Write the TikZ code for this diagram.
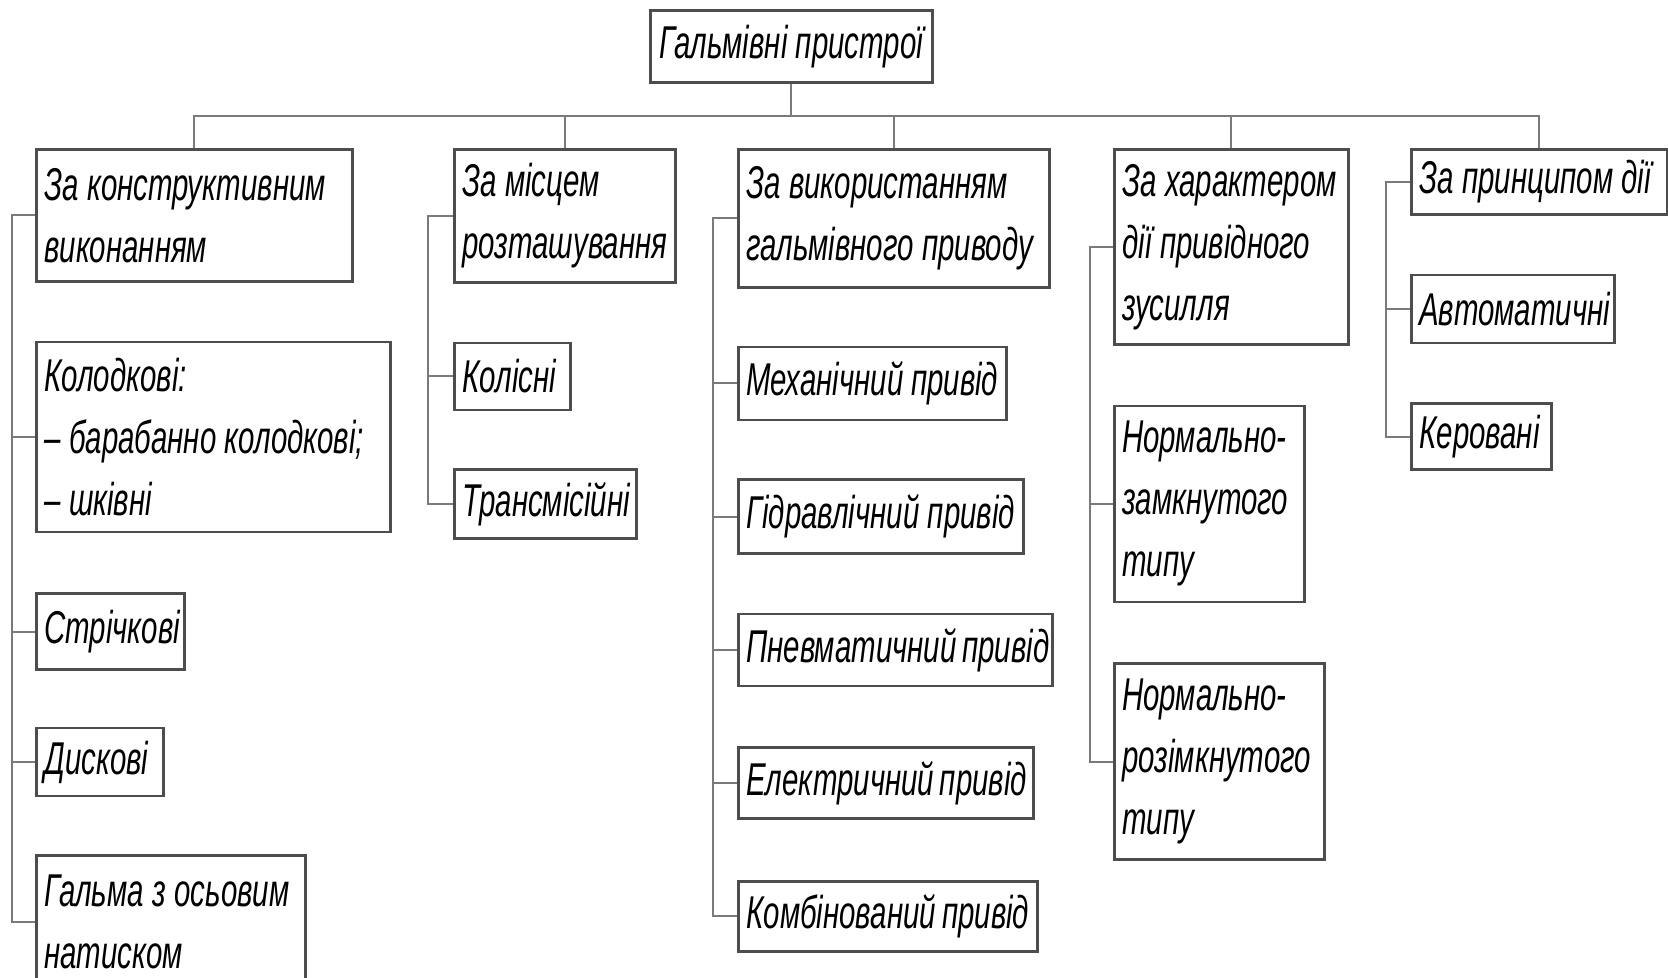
\documentclass[tikz,border=0pt]{standalone}
\usepackage{fontspec}
\newfontfamily\gostfont{Liberation Sans}[FakeStretch=0.64]
\usetikzlibrary{positioning}
\definecolor{boxgray}{HTML}{4D4D4D}
\definecolor{linkgray}{HTML}{7A7A7A}
\newcommand\gostsize{\gostfont\itshape\fontsize{23}{31}\selectfont\fontdimen2\font=4.2pt\relax}
\tikzset{
  blk/.style={draw=boxgray, line width=1.3pt, anchor=north west, align=flush left,
    inner xsep=4pt, inner ysep=2pt, font=\gostsize},
  link/.style={draw=linkgray, line width=1pt}
}

\begin{document}
\begin{tikzpicture}[x=0.5pt, y=-0.5pt]
            \useasboundingbox (0,0) rectangle (1668,978);
            % верхній блок
            \node[blk, align=flush center, text width=133pt, minimum height=36pt] (top) at (649,9) {Гальмівні~пристрої};

            % класифікаційні ознаки
            \node[blk, text width=150pt, minimum height=66pt] (c1) at (35,148) {За~конструктивним\\виконанням};
            \node[blk, text width=102.5pt, minimum height=66.5pt] (c2) at (453,148) {За~місцем\\розташування};
            \node[blk, text width=147.5pt, minimum height=69pt] (c3) at (737,148) {За~використанням\\гальмівного~приводу};
            \node[blk, text width=109pt, minimum height=97.5pt] (c4) at (1113,148) {За~характером\\дії~привідного\\зусилля};
            \node[blk, text width=120pt, minimum height=32.5pt] (c5) at (1410,148) {За~принципом~дії};

            % за конструктивним виконанням
            \node[blk, below=29pt of c1.south west, anchor=north west, text width=169pt, minimum height=95pt] (a1) {Колодкові:\\–~барабанно~колодкові;\\–~шківні};
            \node[blk, below=29.5pt of a1.south west, anchor=north west, text width=66pt, minimum height=38pt] (a2) {Стрічкові};
            \node[blk, below=28pt of a2.south west, anchor=north west, text width=55.5pt, minimum height=34pt] (a3) {Дискові};
            \node[blk, below=28.5pt of a3.south west, anchor=north west, text width=126.5pt, minimum height=66pt] (a4) {Гальма~з~осьовим\\натиском};

            % за місцем розташування
            \node[blk, below=29pt of c2.south west, anchor=north west, text width=50pt, minimum height=33.5pt] (b1) {Колісні};
            \node[blk, below=28.5pt of b1.south west, anchor=north west, text width=83pt, minimum height=34.5pt] (b2) {Трансмісійні};

            % за використанням приводу
            \node[blk, below=28.5pt of c3.south west, anchor=north west, text width=126pt, minimum height=36.5pt] (d1) {Механічний~привід};
            \node[blk, below=28.5pt of d1.south west, anchor=north west, text width=134.5pt, minimum height=37pt] (d2) {Гідравлічний~привід};
            \node[blk, below=29pt of d2.south west, anchor=north west, text width=149pt, minimum height=36pt] (d3) {Пневматичний~привід};
            \node[blk, below=29.5pt of d3.south west, anchor=north west, text width=139.5pt, minimum height=35.5pt] (d4) {Електричний~привід};
            \node[blk, below=30pt of d4.south west, anchor=north west, text width=141.5pt, minimum height=35pt] (d5) {Комбінований~привід};

            % за характером дії зусилля
            \node[blk, below=29.5pt of c4.south west, anchor=north west, text width=87pt, minimum height=98pt] (e1) {Нормально-\\замкнутого\\типу};
            \node[blk, below=29.5pt of e1.south west, anchor=north west, text width=97pt, minimum height=98pt] (e2) {Нормально-\\розімкнутого\\типу};

            % за принципом дії
            \node[blk, below=29pt of c5.south west, anchor=north west, text width=93.5pt, minimum height=34pt] (f1) {Автоматичні};
            \node[blk, below=29pt of f1.south west, anchor=north west, text width=62pt, minimum height=33pt] (f2) {Керовані};

            % з'єднання верхнього рівня
            \draw[link] (top.south) -- ++(0,32) coordinate (bus);
            \draw[link] (c1.north) |- (bus) -| (c5.north);
            \foreach \n in {c2,c3,c4}
                \draw[link] (\n.north) -- (\n.north |- bus);

            % бічні шини
            \draw[link] (c1.west) -- ++(-23,0) |- (a4.west);
            \foreach \n in {a1,a2,a3}
                \draw[link] (\n.west) -- ++(-23,0);
            \draw[link] (c2.west) -- ++(-25,0) |- (b2.west);
            \draw[link] (b1.west) -- ++(-25,0);
            \draw[link] (c3.west) -- ++(-24,0) |- (d5.west);
            \foreach \n in {d1,d2,d3,d4}
                \draw[link] (\n.west) -- ++(-24,0);
            \draw[link] (c4.west) -- ++(-23,0) |- (e2.west);
            \draw[link] (e1.west) -- ++(-23,0);
            \draw[link] (c5.west) -- ++(-24,0) |- (f2.west);
            \draw[link] (f1.west) -- ++(-24,0);
\end{tikzpicture}
\end{document}
